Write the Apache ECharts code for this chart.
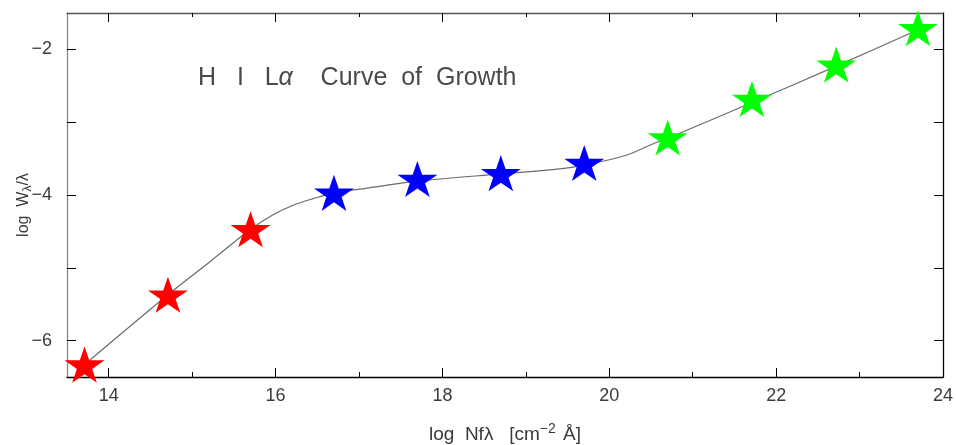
<!DOCTYPE html>
<html><head><meta charset="utf-8">
<script src="https://cdn.jsdelivr.net/npm/echarts@6/dist/echarts.min.js"></script>
<style>html,body{margin:0;padding:0;background:#fff}#c{width:956px;height:445px}</style>
</head><body><div id="c"></div>
<script>
// Data
const redStars   = [[13.71,-6.33],[14.71,-5.37],[15.70,-4.47]];
const blueStars  = [[16.70,-3.97],[17.70,-3.78],[18.70,-3.70],[19.70,-3.56]];
const greenStars = [[20.70,-3.21],[21.71,-2.68],[22.72,-2.21],[23.70,-1.71]];
const curveX = [13.71,14.71,15.21,15.70,15.97,16.21,16.45,16.70,17.01,17.70,18.70,19.41,19.70,20.21,20.52,20.70,21.71,22.72,23.70];
const curveY = [-6.33,-5.37,-4.92,-4.47,-4.27,-4.14,-4.05,-3.97,-3.92,-3.81,-3.71,-3.64,-3.59,-3.45,-3.30,-3.22,-2.73,-2.23,-1.73];
const xMajor = [14,16,18,20,22,24];
const xMinor = [15,17,19,21,23];
const yTicks = [-6,-5,-4,-3,-2];
const yLabels = [-6,-4,-2];

const STAR = 'path://M50 0 L61.23 34.55 L97.55 34.55 L68.17 55.9 L79.39 90.45 L50 69.1 L20.61 90.45 L31.83 55.9 L2.45 34.55 L38.77 34.55 Z';
const font = 'Liberation Sans, DejaVu Sans, sans-serif';
const txt = '#3a3a3a';
const chart = echarts.init(document.getElementById('c'));
const xBase = {type:'value', min:13.5, max:24, splitLine:{show:false}, gridIndex:0};
const yBase = {type:'value', min:-6.5, max:-1.5, splitLine:{show:false}, gridIndex:0};
function minus(v){ return String(v).replace('-', '\u2212'); }
const starStyle = {symbol:STAR, symbolKeepAspect:true, symbolSize:[40,38], z:3};
chart.setOption({
  animation:false,
  grid:{left:67, right:13, top:13, bottom:68, containLabel:false, outerBoundsMode:'none'},
  title:{text:'H   I   L{a|α}    Curve  of  Growth', left:193, top:61,
    textStyle:{fontFamily:font, fontWeight:'normal', fontSize:25, color:'#4a4a4a',
      rich:{a:{fontFamily:font, fontSize:25, fontStyle:'italic', color:'#4a4a4a'}}}},
  xAxis:[
    Object.assign({}, xBase, {position:'bottom',
      axisLine:{show:true, lineStyle:{color:'#000', width:1.3}},
      axisTick:{show:true, inside:true, length:9, customValues:xMajor, lineStyle:{color:'#000'}},
      axisLabel:{show:true, customValues:xMajor, margin:10, fontSize:18, fontFamily:font, color:txt},
      name:'log  Nfλ   [cm{s|−2} Å]', nameLocation:'middle', nameGap:45,
      nameTextStyle:{fontSize:19, fontFamily:font, color:txt, rich:{s:{fontSize:14, fontFamily:font, color:txt, verticalAlign:'top', padding:[0,2,12,0]}}}}),
    Object.assign({}, xBase, {position:'bottom',
      axisLine:{show:false}, axisLabel:{show:false},
      axisTick:{show:true, inside:true, length:5, customValues:xMinor, lineStyle:{color:'#000'}}}),
    Object.assign({}, xBase, {position:'top',
      axisLine:{show:true, lineStyle:{color:'#555', width:1.3}}, axisLabel:{show:false},
      axisTick:{show:true, inside:true, length:9, customValues:xMajor, lineStyle:{color:'#000'}}}),
    Object.assign({}, xBase, {position:'top',
      axisLine:{show:false}, axisLabel:{show:false},
      axisTick:{show:true, inside:true, length:4, customValues:xMinor, lineStyle:{color:'#000'}}})
  ],
  yAxis:[
    Object.assign({}, yBase, {position:'left',
      axisLine:{show:true, lineStyle:{color:'#888', width:1.3}},
      axisTick:{show:true, inside:true, length:9, customValues:yTicks, lineStyle:{color:'#000'}},
      axisLabel:{show:true, customValues:yLabels, margin:15, fontSize:18, fontFamily:font, color:txt, formatter:v=>minus(v)},
      name:'log  W{s|λ}/λ', nameLocation:'middle', nameGap:33, nameRotate:90, nameMoveOverlap:false,
      nameTextStyle:{fontSize:16, fontFamily:font, color:txt, padding:[0,20,0,0], rich:{s:{fontSize:12, fontFamily:font, color:txt, verticalAlign:'bottom', padding:[8,0,0,0]}}}}),
    Object.assign({}, yBase, {position:'right',
      axisLine:{show:true, lineStyle:{color:'#000', width:1.3}}, axisLabel:{show:false},
      axisTick:{show:true, inside:true, length:9, customValues:yTicks, lineStyle:{color:'#000'}}})
  ],
  series:[
    {type:'line', xAxisIndex:0, yAxisIndex:0, data:curveX.map((x,i)=>[x,curveY[i]]), smooth:0.3, showSymbol:false,
      lineStyle:{color:'#6a6a6a', width:1.2}, z:1},
    Object.assign({type:'scatter', data:redStars, itemStyle:{color:'#ff0000', opacity:1}}, starStyle),
    Object.assign({type:'scatter', data:blueStars, itemStyle:{color:'#0000ff', opacity:1}}, starStyle),
    Object.assign({type:'scatter', data:greenStars, itemStyle:{color:'#00ff00', opacity:1}}, starStyle)
  ]
});
</script></body></html>
